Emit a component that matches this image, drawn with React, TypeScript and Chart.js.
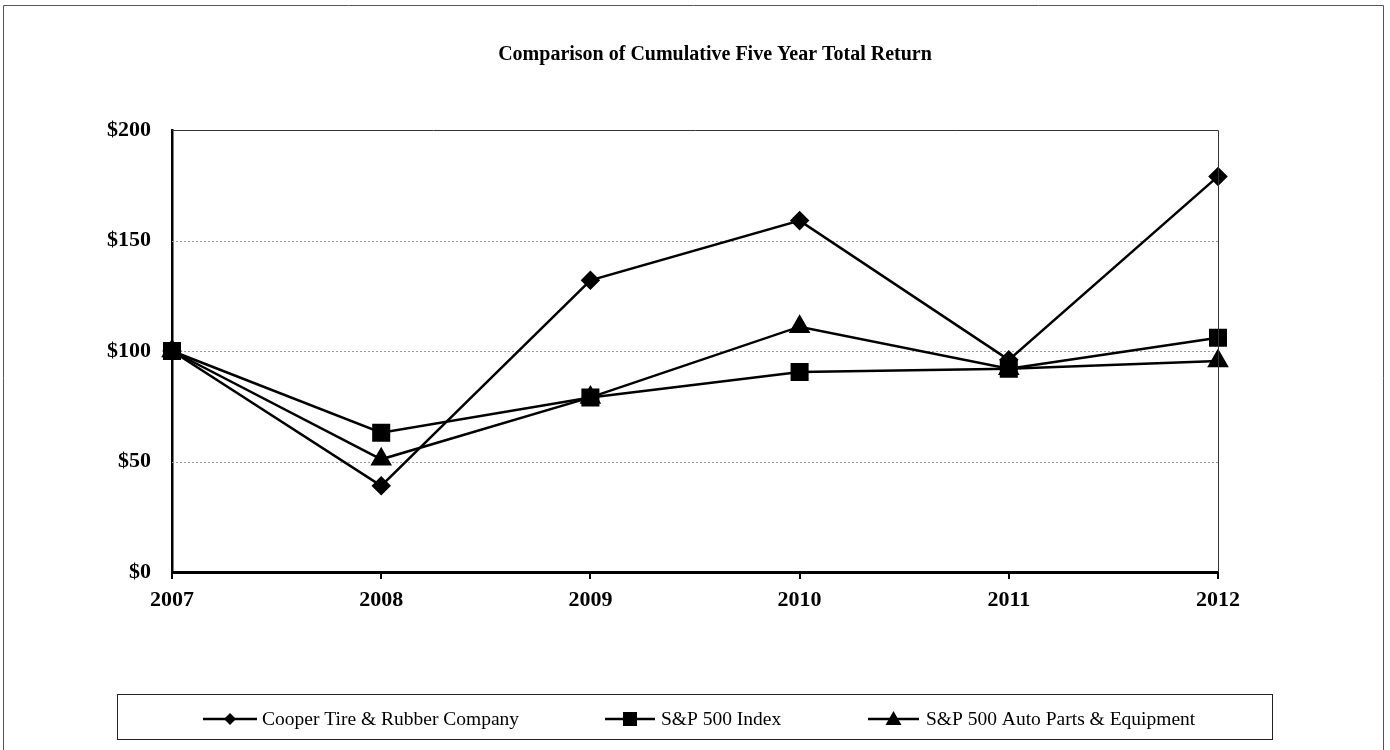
import React, { useEffect, useRef } from "react";
import { Chart, registerables } from "chart.js";

Chart.register(...registerables);

const years = ["2007", "2008", "2009", "2010", "2011", "2012"];
const cooper = [100, 39, 132, 159, 96, 179];
const sp500 = [100, 63, 79, 90.5, 92, 106];
const autoParts = [100, 51, 79, 111, 92, 95.5];
const seriesNames = [
  "Cooper Tire & Rubber Company",
  "S&P 500 Index",
  "S&P 500 Auto Parts & Equipment",
];
const title = "Comparison of Cumulative Five Year Total Return";
const yTicks = [0, 50, 100, 150, 200];

const SERIF = "'Liberation Serif', 'DejaVu Serif', serif";

const framePlugin = {
  id: "frame",
  beforeDraw(chart: any) {
    const ctx = chart.ctx;
    ctx.save();
    ctx.fillStyle = "#fff";
    ctx.fillRect(0, 0, chart.width, chart.height);
    ctx.restore();
  },
  beforeDatasetsDraw(chart: any) {
    const ctx = chart.ctx;
    const a = chart.chartArea;
    const ys = chart.scales.y;
    ctx.save();
    ctx.strokeStyle = "#9a9a9a";
    ctx.lineWidth = 1;
    ctx.setLineDash([2, 2]);
    ys.ticks.forEach((t: any) => {
      if (t.value <= 0 || t.value >= 200) return;
      const y = Math.round(ys.getPixelForValue(t.value)) + 0.5;
      ctx.beginPath();
      ctx.moveTo(a.left, y);
      ctx.lineTo(a.right, y);
      ctx.stroke();
    });
    ctx.restore();
  },
  afterDraw(chart: any) {
    const ctx = chart.ctx;
    const a = chart.chartArea;
    ctx.save();
    // outer border
    ctx.strokeStyle = "#555";
    ctx.lineWidth = 1;
    ctx.beginPath();
    ctx.moveTo(3.5, 760);
    ctx.lineTo(3.5, 5.5);
    ctx.lineTo(1383.5, 5.5);
    ctx.lineTo(1383.5, 760);
    ctx.stroke();
    // top and right plot border
    ctx.strokeStyle = "#333";
    ctx.lineWidth = 1;
    ctx.beginPath();
    ctx.moveTo(a.left, a.top + 0.5);
    ctx.lineTo(a.right + 0.5, a.top + 0.5);
    ctx.lineTo(a.right + 0.5, a.bottom);
    ctx.stroke();
    // title
    ctx.fillStyle = "#000";
    ctx.font = "bold 20px " + SERIF;
    ctx.textAlign = "center";
    ctx.textBaseline = "middle";
    ctx.fillText(title, 715, 55);
    // legend box
    ctx.strokeStyle = "#222";
    ctx.lineWidth = 1;
    ctx.strokeRect(117.5, 694.5, 1155, 45);
    const items = [
      { x0: 203, x1: 257, tx: 262 },
      { x0: 605, x1: 655, tx: 661 },
      { x0: 868, x1: 919, tx: 926 },
    ];
    const ly = 719;
    chart.data.datasets.forEach((ds: any, i: number) => {
      const it = items[i];
      ctx.strokeStyle = "#000";
      ctx.lineWidth = 2.5;
      ctx.beginPath();
      ctx.moveTo(it.x0, ly);
      ctx.lineTo(it.x1, ly);
      ctx.stroke();
      ctx.fillStyle = "#000";
      const cx = (it.x0 + it.x1) / 2;
      const r = ds.legendRadius;
      ctx.beginPath();
      if (ds.pointStyle === "rectRot") {
        ctx.moveTo(cx, ly - r);
        ctx.lineTo(cx + r, ly);
        ctx.lineTo(cx, ly + r);
        ctx.lineTo(cx - r, ly);
        ctx.closePath();
      } else if (ds.pointStyle === "rect") {
        ctx.rect(cx - r, ly - r, 2 * r, 2 * r);
      } else {
        ctx.moveTo(cx, ly - r);
        ctx.lineTo(cx + r, ly + r * 0.75);
        ctx.lineTo(cx - r, ly + r * 0.75);
        ctx.closePath();
      }
      ctx.fill();
      ctx.font = "19.5px " + SERIF;
      ctx.textAlign = "left";
      ctx.textBaseline = "middle";
      ctx.fillText(ds.label, it.tx, ly + 1);
    });
    ctx.restore();
  },
};

export default function App() {
  const ref = useRef<HTMLCanvasElement>(null);
  useEffect(() => {
    document.body.style.margin = "0";
    const common = {
      borderColor: "#000",
      backgroundColor: "#000",
      pointBackgroundColor: "#000",
      pointBorderColor: "#000",
      borderWidth: 2.5,
      tension: 0,
      fill: false,
    };
    const chart = new Chart(ref.current as HTMLCanvasElement, {
      type: "line",
      data: {
        labels: years,
        datasets: [
          { ...common, label: seriesNames[0], data: cooper, pointStyle: "rectRot", pointRadius: 8, legendRadius: 6 } as any,
          { ...common, label: seriesNames[1], data: sp500, pointStyle: "rect", pointRadius: 11, legendRadius: 7 } as any,
          { ...common, label: seriesNames[2], data: autoParts, pointStyle: "triangle", pointRadius: 10, legendRadius: 8 } as any,
        ],
      },
      options: {
        animation: false,
        responsive: false,
        maintainAspectRatio: false,
        devicePixelRatio: 1,
        layout: { padding: { left: 20, right: 172, top: 130, bottom: 130 } },
        plugins: {
          legend: { display: false },
          title: { display: false },
          tooltip: { enabled: false },
        },
        scales: {
          x: {
            offset: false,
            grid: {
              display: true,
              drawOnChartArea: false,
              drawTicks: true,
              tickLength: 7,
              color: "#000",
              lineWidth: 2,
            },
            border: { display: true, color: "#000", width: 3 },
            ticks: {
              color: "#000",
              padding: 8,
              font: { family: SERIF, size: 22, weight: "bold" },
              maxRotation: 0,
            },
            afterFit(scale: any) {
              scale.height = 48;
            },
          },
          y: {
            min: 0,
            max: 200,
            afterBuildTicks(scale: any) {
              scale.ticks = yTicks.map((v) => ({ value: v }));
            },
            grid: {
              display: false,
            },
            border: { display: true, color: "#000", width: 2.5 },
            ticks: {
              color: "#000",
              padding: 13,
              font: { family: SERIF, size: 22, weight: "bold" },
              callback: (v: any) => "$" + v,
            },
            afterFit(scale: any) {
              scale.width = 152;
            },
          },
        },
      } as any,
      plugins: [framePlugin],
    });
    return () => chart.destroy();
  }, []);
  return (
    <div style={{ position: "absolute", left: 0, top: 0, width: 1390, height: 750 }}>
      <canvas ref={ref} width={1390} height={750} style={{ width: 1390, height: 750, display: "block" }} />
    </div>
  );
}
